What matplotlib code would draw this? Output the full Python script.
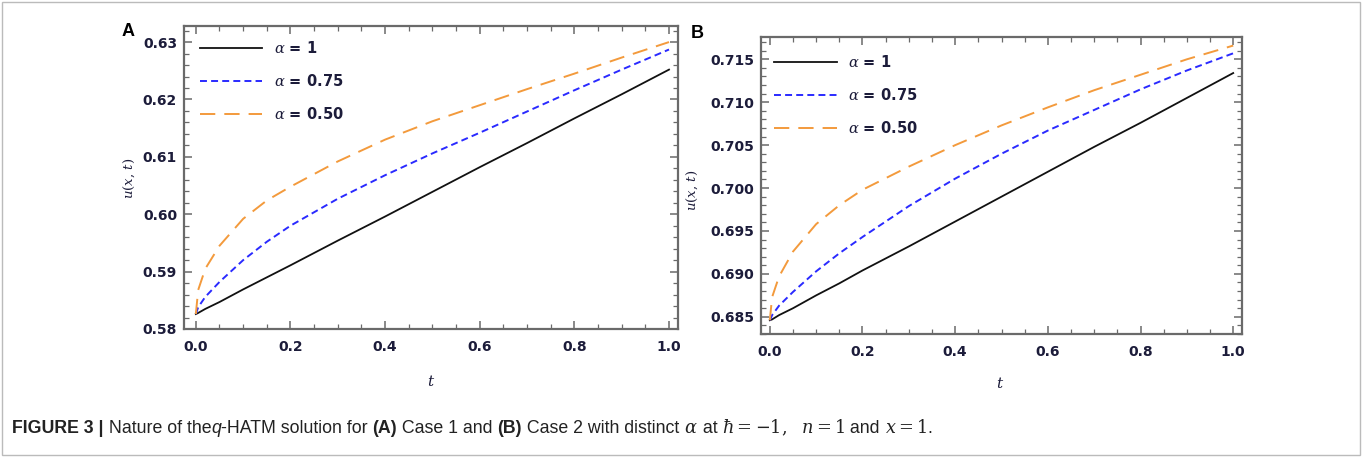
import matplotlib
matplotlib.use("Agg")
import matplotlib.pyplot as plt
from matplotlib.ticker import MultipleLocator, FormatStrFormatter
from matplotlib.patches import Rectangle

W, H = 1363, 457
plt.rcParams['mathtext.fontset'] = 'dejavuserif'
plt.rcParams['lines.scale_dashes'] = False

# ---------------- data ----------------
t_vals = [0.0, 0.005, 0.02, 0.05, 0.1, 0.15, 0.2, 0.3, 0.4, 0.5, 0.6, 0.7, 0.8, 0.9, 1.0]

# Panel A (Case 1)
a_alpha1 = [0.5826, 0.5828, 0.5835, 0.5847, 0.5869, 0.5890, 0.5911, 0.5954, 0.5996,
            0.6039, 0.6082, 0.6124, 0.6167, 0.6209, 0.6252]
a_alpha075 = [0.5826, 0.5838, 0.5856, 0.5882, 0.5920, 0.5952, 0.5980, 0.6027, 0.6068,
              0.6106, 0.6142, 0.6179, 0.6216, 0.6252, 0.6287]
a_alpha050 = [0.5826, 0.5868, 0.5905, 0.5945, 0.5992, 0.6024, 0.6048, 0.6092, 0.6130,
              0.6162, 0.6190, 0.6218, 0.6245, 0.6273, 0.6300]

# Panel B (Case 2)
b_alpha1 = [0.6846, 0.6847, 0.6852, 0.6860, 0.6875, 0.6889, 0.6904, 0.6932, 0.6961,
            0.6990, 0.7019, 0.7048, 0.7076, 0.7105, 0.7134]
b_alpha075 = [0.6846, 0.6852, 0.6863, 0.6879, 0.6903, 0.6924, 0.6943, 0.6979, 0.7011,
              0.7040, 0.7067, 0.7091, 0.7115, 0.7137, 0.7157]
b_alpha050 = [0.6846, 0.6873, 0.6897, 0.6926, 0.6958, 0.6980, 0.6998, 0.7025, 0.7050,
              0.7073, 0.7094, 0.7114, 0.7132, 0.7150, 0.7166]

labels = [r'$\alpha$ = 1', r'$\alpha$ = 0.75', r'$\alpha$ = 0.50']
x_ticks = [0.0, 0.2, 0.4, 0.6, 0.8, 1.0]
a_yticks = [0.58, 0.59, 0.60, 0.61, 0.62, 0.63]
b_yticks = [0.685, 0.690, 0.695, 0.700, 0.705, 0.710, 0.715]

# ---------------- style ----------------
c_black = '#111111'
c_blue = '#2a2aff'
c_orange = '#f39a3c'
frame_c = '#6a6a6a'
tick_c = '#1c1c3a'

fig = plt.figure(figsize=(W / 100, H / 100), dpi=100)

def px_axes(l, t, r, b):
    return [l / W, 1 - b / H, (r - l) / W, (b - t) / H]

def style_axes(ax, yfmt, ymin_step):
    for s in ax.spines.values():
        s.set_color(frame_c)
        s.set_linewidth(1.6)
    ax.tick_params(which='both', direction='in', top=True, right=True,
                   color=frame_c, labelcolor=tick_c)
    ax.tick_params(which='major', length=6, width=1.1, labelsize=10)
    ax.tick_params(axis='x', which='major', pad=8)
    ax.tick_params(axis='y', which='major', pad=5)
    ax.tick_params(which='minor', length=3.5, width=0.9)
    ax.xaxis.set_minor_locator(MultipleLocator(0.05))
    ax.yaxis.set_minor_locator(MultipleLocator(ymin_step))
    ax.xaxis.set_major_formatter(FormatStrFormatter('%.1f'))
    ax.yaxis.set_major_formatter(FormatStrFormatter(yfmt))
    for lab in ax.get_xticklabels() + ax.get_yticklabels():
        lab.set_fontweight('bold')

def draw_panel(ax, y1, y2, y3, yticks, ylim, xlim, yfmt, ymin_step, leg_anchor):
    ax.plot(t_vals, y1, color=c_black, lw=1.3, label=labels[0])
    l2, = ax.plot(t_vals, y2, color=c_blue, lw=1.4, label=labels[1])
    l2.set_dashes((5, 3))
    l3, = ax.plot(t_vals, y3, color=c_orange, lw=1.4, label=labels[2])
    l3.set_dashes((11, 6.5))
    ax.set_xlim(*xlim)
    ax.set_ylim(*ylim)
    ax.set_xticks(x_ticks)
    ax.set_yticks(yticks)
    style_axes(ax, yfmt, ymin_step)
    leg = ax.legend(loc='upper left', bbox_to_anchor=leg_anchor, frameon=False,
                    handlelength=4.3, handletextpad=0.8, labelspacing=1.15,
                    borderaxespad=0.0, prop={'weight': 'bold', 'size': 10.5})
    for txt in leg.get_texts():
        txt.set_color(tick_c)
    return ax

axA = fig.add_axes(px_axes(184, 26, 678, 329))
draw_panel(axA, a_alpha1, a_alpha075, a_alpha050, a_yticks,
           (0.58, 0.6328), (-0.025, 1.019), '%.2f', 0.002, (0.02, 0.972))

axB = fig.add_axes(px_axes(761, 37, 1242, 334))
draw_panel(axB, b_alpha1, b_alpha075, b_alpha050, b_yticks,
           (0.683, 0.7176), (-0.019, 1.019), '%.3f', 0.001, (0.015, 0.962))

# axis labels
fig.text(431 / W, 1 - 381 / H, r'$t$', fontsize=11, color=tick_c, ha='center', va='center')
fig.text(1000 / W, 1 - 383 / H, r'$t$', fontsize=11, color=tick_c, ha='center', va='center')
fig.text(129 / W, 1 - 178 / H, r'$u(x,\,t)$', fontsize=9.5, color=tick_c, rotation=90,
         ha='center', va='center')
fig.text(692 / W, 1 - 190 / H, r'$u(x,\,t)$', fontsize=9.5, color=tick_c, rotation=90,
         ha='center', va='center')

# panel letters
fig.text(128 / W, 1 - 32 / H, 'A', fontsize=13, fontweight='bold', ha='center', va='center',
         family='Liberation Sans')
fig.text(697 / W, 1 - 33 / H, 'B', fontsize=13, fontweight='bold', ha='center', va='center',
         family='Liberation Sans')

# border
fig.patches.append(Rectangle((2 / W, 2 / H), (W - 5) / W, (H - 4) / H, transform=fig.transFigure,
                             fill=False, edgecolor='#bbbbbb', linewidth=1.0))

# caption
cap_family = 'Liberation Sans'
cap_size = 12.8
pieces = [
    ('FIGURE 3 |', 'bold', 'normal'),
    (' Nature of the', 'normal', 'normal'),
    ('q', 'normal', 'italic'),
    ('-HATM solution for ', 'normal', 'normal'),
    ('(A)', 'bold', 'normal'),
    (' Case 1 and ', 'normal', 'normal'),
    ('(B)', 'bold', 'normal'),
    (' Case 2 with distinct ', 'normal', 'normal'),
    (r'$\alpha$', 'normal', 'normal'),
    (' at ', 'normal', 'normal'),
    (r'$\hbar = -1,\ \ n = 1$', 'normal', 'normal'),
    (' and ', 'normal', 'normal'),
    (r'$x = 1$', 'normal', 'normal'),
    ('.', 'normal', 'normal'),
]
renderer = fig.canvas.get_renderer()
x = 12
ycap = 1 - 433 / H
for txt, wt, st in pieces:
    tt = fig.text(x / W, ycap, txt, fontsize=cap_size, fontweight=wt, fontstyle=st,
                  family=cap_family, color='#222222', ha='left', va='baseline')
    bb = tt.get_window_extent(renderer)
    x += bb.width

fig.savefig('out.png', dpi=100)
